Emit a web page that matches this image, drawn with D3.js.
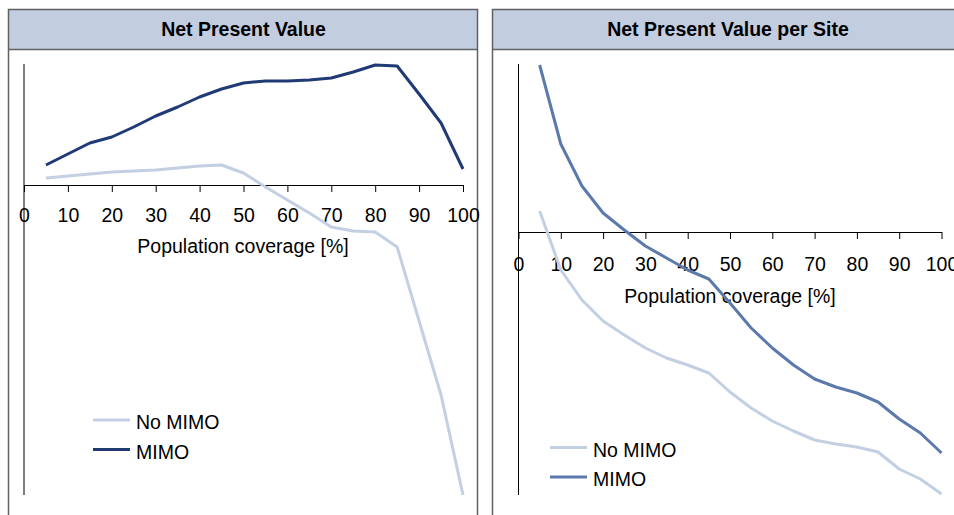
<!DOCTYPE html>
<html lang="en">
<head>
<meta charset="utf-8">
<script src="https://d3js.org/d3.v7.min.js"></script>
<title>Net Present Value</title>
<style>
  body { margin: 0; background: #fff; }
  text { font-family: "Liberation Sans", Arial, sans-serif; fill: #000; }
</style>
</head>
<body>
<svg id="chart" width="954" height="515"></svg>
<script>
// coverage steps (%)
var coverage = [5,10,15,20,25,30,35,40,45,50,55,60,65,70,75,80,85,90,95,100];
var xTicks = [0,10,20,30,40,50,60,70,80,90,100];
var seriesNames = ["No MIMO", "MIMO"];

// Net Present Value (relative units)
var npvNoMimo = [7,9,11,13,14,15,17,19,20,12,-2,-15,-28,-42,-46,-47,-62,-136,-210,-310];
var npvMimo   = [20,31,42,48,58,69,78,88,96,102,104,104,105,107,113,120,119,91,62,16];

// Net Present Value per Site (relative units)
var siteNoMimo = [21,-38,-68,-89,-103,-116,-126,-133,-141,-160,-176,-189,-199,-208,-212,-215,-220,-237,-247,-262];
var siteMimo   = [167,88,46,19,2,-14,-26,-38,-47,-71,-96,-116,-133,-147,-155,-161,-170,-187,-201,-221];

var svg = d3.select("#chart");
var fs = "19.5px";

// one panel = header + axes + two lines + legend
function panel(opt) {
  var g = svg.append("g");

  // frame and header
  g.append("rect")
    .attr("x", opt.left).attr("y", 9.5)
    .attr("width", opt.right - opt.left).attr("height", 40)
    .attr("fill", "#c3cde0");
  g.append("path")
    .attr("d", "M" + opt.left + ",520V9.5H" + opt.right + "V520")
    .attr("fill", "none").attr("stroke", "#5f6163").attr("stroke-width", 1.5);
  g.append("line")
    .attr("x1", opt.left).attr("x2", opt.right)
    .attr("y1", 49.5).attr("y2", 49.5)
    .attr("stroke", "#5f6163").attr("stroke-width", 1.5);
  g.append("text")
    .attr("x", opt.titleX).attr("y", 36)
    .attr("text-anchor", "middle")
    .style("font-weight", "bold").style("font-size", fs)
    .text(opt.title);

  var x = d3.scaleLinear().domain([0, 100]).range([opt.x0, opt.x1]);
  var y = d3.scaleLinear().domain(opt.yDomain).range([495, 64]);

  // y axis: plain line, no ticks
  g.append("line")
    .attr("x1", x(0)).attr("x2", x(0))
    .attr("y1", y(opt.yDomain[0])).attr("y2", y(opt.yDomain[1]))
    .attr("stroke", "#000").attr("stroke-width", 1);

  // x axis at zero
  var ax = g.append("g")
    .attr("transform", "translate(0," + y(0) + ")")
    .call(d3.axisBottom(x).tickValues(xTicks).tickSize(7).tickPadding(opt.pad).tickSizeOuter(0));
  ax.select(".domain").attr("stroke", "#000");
  ax.selectAll(".tick line").attr("stroke", "#000");
  ax.selectAll(".tick text")
    .style("font-size", fs)
    .style("font-family", "'Liberation Sans', Arial, sans-serif");

  g.append("text")
    .attr("x", opt.labelX).attr("y", y(0) + opt.labelDy)
    .attr("text-anchor", "middle")
    .style("font-size", fs)
    .text("Population coverage [%]");

  var line = d3.line()
    .x(function(d, i) { return x(coverage[i]); })
    .y(function(d) { return y(d); });

  var data = [opt.noMimo, opt.mimo];
  g.selectAll(".series")
    .data(data)
    .enter()
    .append("path")
    .attr("class", "series")
    .attr("d", line)
    .attr("fill", "none")
    .attr("stroke", function(d, i) { return opt.colors[i]; })
    .attr("stroke-width", 3)
    .attr("stroke-linejoin", "round");

  // legend
  var lg = g.append("g")
    .attr("transform", "translate(" + opt.legendX + "," + opt.legendY + ")");
  seriesNames.forEach(function(name, i) {
    lg.append("line")
      .attr("x1", 0).attr("x2", 37)
      .attr("y1", i * 29.5).attr("y2", i * 29.5)
      .attr("stroke", opt.colors[i]).attr("stroke-width", 3);
    lg.append("text")
      .attr("x", 43).attr("y", i * 29.5 + 9)
      .style("font-size", fs)
      .text(name);
  });
}

panel({
  title: "Net Present Value",
  left: 8.5, right: 477.5, titleX: 243.5,
  x0: 24, x1: 463,
  yDomain: [-310, 121],
  noMimo: npvNoMimo, mimo: npvMimo,
  colors: ["#c3cfe2", "#1f3a75"],
  pad: 16, labelX: 243, labelDy: 68,
  legendX: 93, legendY: 420
});

panel({
  title: "Net Present Value per Site",
  left: 492.5, right: 960, titleX: 728,
  x0: 518.5, x1: 941.5,
  yDomain: [-263, 168],
  noMimo: siteNoMimo, mimo: siteMimo,
  colors: ["#c3cfe2", "#5b7aab"],
  pad: 18, labelX: 730, labelDy: 71,
  legendX: 550, legendY: 447.5
});
</script>
</body>
</html>
